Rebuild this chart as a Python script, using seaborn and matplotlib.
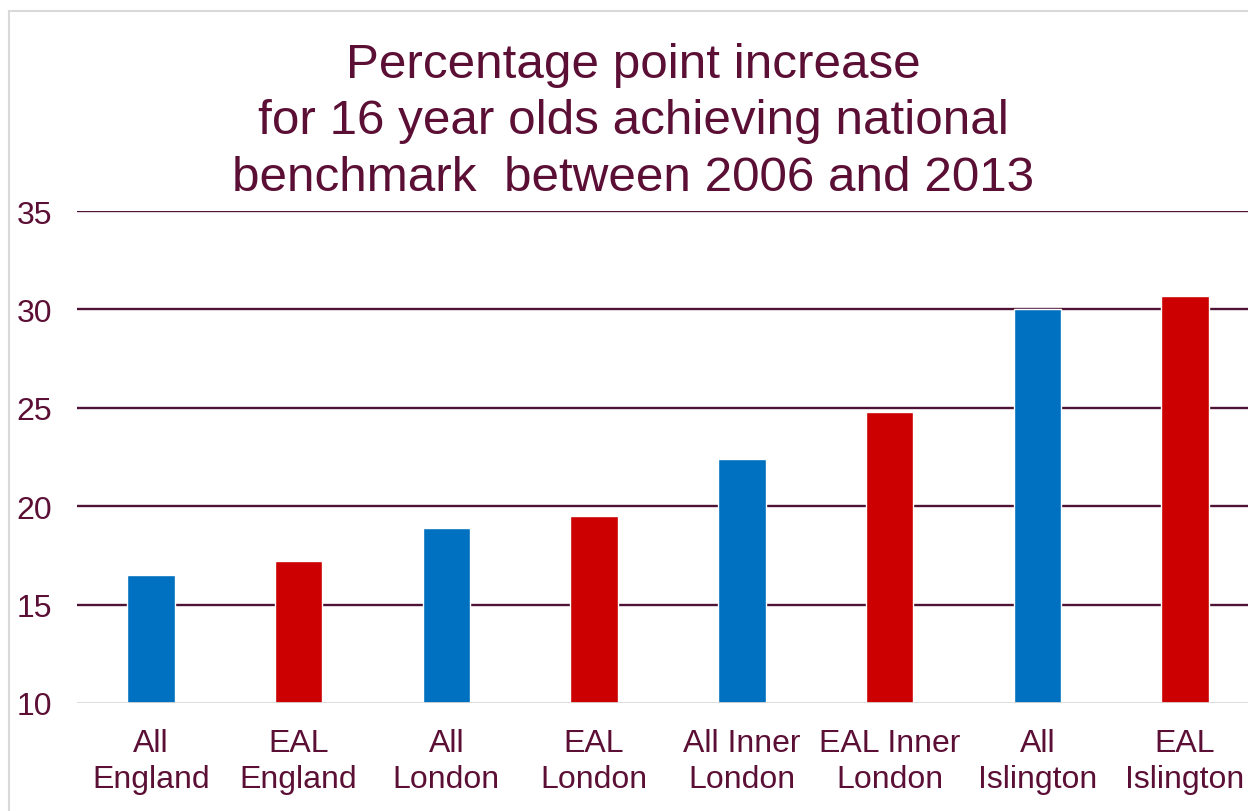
import matplotlib
matplotlib.use("Agg")
import matplotlib.pyplot as plt
import seaborn as sns
import pandas as pd
from matplotlib.patches import Rectangle

categories = ["All\nEngland", "EAL\nEngland", "All\nLondon", "EAL\nLondon",
              "All Inner\nLondon", "EAL Inner\nLondon", "All\nIslington", "EAL\nIslington"]
increase = [16.5, 17.2, 18.9, 19.5, 22.4, 24.8, 30.0, 30.7]
group = ["All", "EAL", "All", "EAL", "All", "EAL", "All", "EAL"]
y_ticks = [10, 15, 20, 25, 30, 35]

BLUE = "#0070C0"
RED = "#CC0000"
TEXT = "#5C0F35"
GRID = "#4E1236"

sns.set_theme(style="white")
plt.rcParams["font.family"] = ["Liberation Sans", "DejaVu Sans"]

df = pd.DataFrame({"category": categories, "increase": increase, "group": group})

fig = plt.figure(figsize=(12.48, 8.12), dpi=100)

# chart frame (light grey border, open on the right/bottom)
fig.patches.append(Rectangle((9 / 1248, -0.1), 1.2, (812 - 12) / 812 + 0.1,
                             transform=fig.transFigure, fill=False,
                             edgecolor="#D9D9D9", linewidth=1.5, zorder=0))

ax = fig.add_axes([77 / 1248, (812 - 704) / 812, (1259 - 77) / 1248, 492 / 812])

sns.barplot(data=df, x="category", y="increase", hue="group",
            palette={"All": BLUE, "EAL": RED}, dodge=False, width=0.32,
            legend=False, ax=ax, saturation=1, zorder=3)

ax.set_ylim(10, 35)
ax.set_yticks(y_ticks)
for v in y_ticks[1:]:
    ax.axhline(v, color=GRID, linewidth=1.7, zorder=1)
ax.axhline(10, color="#D9D9D9", linewidth=2, zorder=4)

for s in ax.spines.values():
    s.set_visible(False)
ax.set_xlabel("")
ax.set_ylabel("")
ax.tick_params(axis="y", length=0, pad=18, labelsize=23, labelcolor=TEXT)
ax.tick_params(axis="x", length=0, pad=18, labelsize=23, labelcolor=TEXT)
for lbl in ax.get_xticklabels():
    lbl.set_linespacing(1.25)

fig.text(633 / 1248, 1 - 122 / 812,
         "Percentage point increase\nfor 16 year olds achieving national\nbenchmark  between 2006 and 2013",
         ha="center", va="center", fontsize=35.6, color=TEXT, linespacing=1.34)

fig.savefig("out.png", dpi=100)
